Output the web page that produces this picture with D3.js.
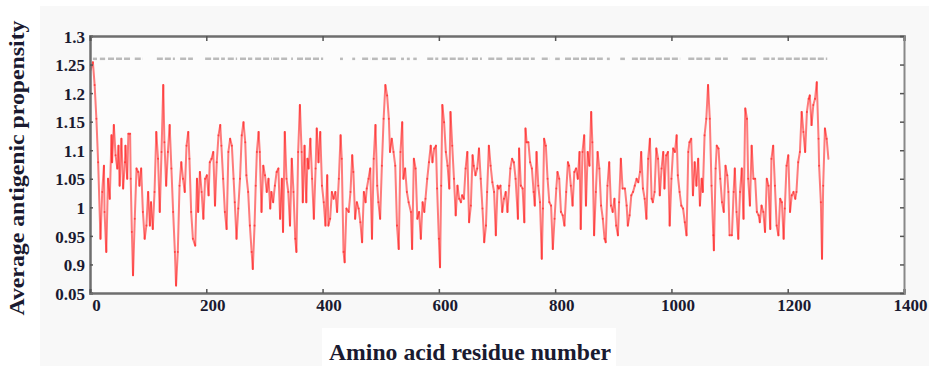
<!DOCTYPE html>
<html>
<head>
<meta charset="utf-8">
<script src="https://d3js.org/d3.v7.min.js"></script>
<style>
  html, body { margin: 0; padding: 0; background: #fff; }
  svg { display: block; }
  .lbl { font-family: "Liberation Serif", "Times New Roman", serif; font-weight: bold; fill: #1a1a30; }
</style>
</head>
<body>
<div id="chart"></div>
<script>
// residue positions and average antigenic propensity
const residues = [1,5,8,11,14,18,21,24,25,28,31,34,37,38,41,44,47,49,51,54,57,60,61,64,66,69,70,72,74,77,80,83,85,88,91,94,97,100,103,105,108,111,114,117,120,123,126,128,131,134,137,140,143,146,148,151,154,157,160,163,166,169,171,174,177,
  181,184,186,189,192,195,198,201,204,206,209,212,215,218,221,224,226,229,232,235,238,241,244,247,249,252,255,258,261,264,267,269,272,275,278,280,283,285,287,290,292,295,298,301,304,307,310,312,315,318,321,324,327,330,332,335,338,341,344,347,350,353,355,358,361,364,
  366,369,372,374,376,379,382,385,388,390,393,396,399,402,405,408,410,413,416,419,422,425,428,431,433,436,438,441,445,448,451,453,456,459,462,465,468,471,474,476,479,482,485,488,491,494,496,499,502,505,508,511,514,516,519,522,525,528,531,534,537,539,542,545,548,
  552,554,557,560,563,566,569,572,575,577,580,583,586,589,592,595,597,600,602,604,606,609,612,615,618,620,623,626,629,632,635,638,640,643,646,649,652,655,658,660,663,666,669,672,675,678,681,683,686,689,692,695,698,701,703,706,709,712,715,718,721,723,726,729,732,
  736,738,741,744,747,749,751,754,757,760,763,765,768,771,774,777,779,781,784,787,790,793,796,799,802,804,807,810,813,816,819,822,824,827,830,833,836,839,842,844,847,850,853,856,859,862,864,867,870,873,876,879,882,885,887,890,893,896,899,902,905,908,910,913,916,
  920,923,925,928,931,934,937,940,943,946,948,951,954,957,960,963,966,968,971,974,977,980,983,986,988,991,994,997,1000,1003,1006,1009,1011,1014,1017,1020,1023,1026,1029,1031,1034,1037,1040,1043,1046,1049,1052,1054,1057,1060,1063,1066,1069,1072,1073,1076,1078,1081,1084,1087,1090,1093,1096,1098,1100,
  1104,1107,1109,1112,1115,1118,1121,1124,1127,1130,1132,1135,1138,1141,1144,1147,1150,1152,1155,1158,1161,1164,1167,1170,1172,1175,1178,1181,1184,1187,1190,1193,1195,1198,1201,1204,1207,1210,1213,1215,1218,1221,1224,1227,1230,1233,1236,1238,1241,1244,1247,1250,1253,1254,1257,1259,1261,1264,1267,1270];

const propensity = [1.240,1.254,1.214,1.155,1.079,0.945,1.027,1.073,0.992,0.922,1.050,1.015,1.126,1.079,1.144,1.091,1.068,1.108,1.038,1.120,1.033,1.079,1.108,1.050,1.129,1.129,1.050,0.957,0.881,0.980,1.068,1.062,1.038,1.068,0.992,0.945,0.968,1.027,0.968,1.009,0.962,1.027,1.132,1.085,0.992,1.097,1.214,1.114,1.038,1.097,1.144,1.068,0.992,0.922,0.863,0.922,1.038,1.079,1.050,1.027,1.108,1.132,1.085,0.992,0.945,
  0.933,1.050,0.992,1.062,1.027,0.980,1.050,1.056,1.021,1.079,1.085,1.097,1.003,1.079,1.126,1.144,1.108,1.050,0.992,0.962,1.097,1.120,1.108,1.050,1.009,0.945,0.998,1.050,1.126,1.149,1.114,1.056,1.027,0.968,0.922,0.892,0.968,1.038,1.097,1.132,1.097,0.992,1.073,1.056,1.027,1.050,0.998,1.027,1.009,1.038,1.062,1.068,0.980,1.050,0.957,1.132,1.050,1.027,0.968,1.085,1.027,0.945,0.922,1.097,1.179,1.097,
  1.009,1.108,1.009,1.085,1.068,1.120,1.050,0.980,1.068,1.138,1.079,1.132,1.038,1.009,0.968,1.056,0.968,0.980,1.027,1.015,1.027,0.992,1.050,1.126,1.085,0.922,0.904,0.998,0.992,1.027,1.091,1.062,0.980,1.009,0.998,0.974,0.939,1.027,1.009,1.033,1.050,1.068,0.945,1.085,1.144,1.038,1.009,0.980,1.073,1.155,1.214,1.196,1.155,1.097,1.120,1.097,1.073,0.968,0.927,1.097,1.149,1.050,1.068,1.027,1.009,
  0.992,0.927,1.085,1.068,0.980,0.992,0.945,1.009,0.992,1.015,1.050,1.079,1.108,1.079,1.103,1.108,1.033,0.945,0.895,1.038,1.179,1.149,1.097,1.073,1.033,1.167,1.108,1.050,0.986,1.038,1.015,1.009,1.021,1.015,1.068,1.097,0.974,1.003,1.091,1.073,1.056,1.068,1.103,1.050,0.998,0.939,0.968,1.027,1.108,1.073,1.044,1.027,0.951,1.038,1.033,1.038,0.992,1.015,1.027,0.992,1.038,1.068,1.085,1.079,1.050,
  0.980,1.103,1.038,1.033,0.974,1.138,1.114,1.114,1.079,1.068,1.027,1.003,1.097,1.038,1.009,0.910,0.998,1.120,1.108,1.050,1.009,1.003,0.927,0.980,1.033,1.062,1.050,0.992,0.986,0.968,1.027,1.079,1.073,1.038,1.003,1.062,1.068,1.050,1.097,0.962,1.097,1.126,1.003,1.097,1.073,1.167,1.114,0.951,1.027,1.097,1.068,1.003,0.980,0.945,0.939,1.038,1.079,1.003,0.992,1.015,0.968,0.951,1.009,1.085,1.033,
  1.033,1.003,0.968,0.986,1.021,1.027,1.038,1.050,1.044,1.062,1.097,1.033,1.015,0.980,1.085,1.120,1.015,1.009,1.027,1.103,1.085,1.021,1.068,1.097,1.033,1.091,1.097,0.968,1.050,1.103,1.097,1.126,1.056,1.027,1.003,0.998,0.974,0.951,1.097,1.114,1.120,1.021,1.079,1.038,1.085,1.003,1.050,1.027,1.126,1.155,1.214,1.155,1.038,0.951,0.925,1.068,1.108,1.103,1.050,1.009,0.992,1.073,1.056,1.027,0.951,
  0.951,1.027,1.068,0.992,0.945,1.027,1.068,0.980,1.173,1.155,1.050,1.003,1.108,1.050,1.050,0.992,0.986,0.974,1.003,0.992,0.957,1.050,1.038,0.962,1.085,1.108,1.038,0.968,0.951,1.015,1.009,0.945,0.998,1.073,1.091,0.992,1.021,1.027,1.015,1.027,1.079,1.097,1.167,1.132,1.097,1.167,1.190,1.196,1.144,1.179,1.190,1.219,1.120,1.073,1.009,0.910,1.038,1.138,1.120,1.085];

// residue ranges covered by the grey dashed band near the top
const bandStart = [5,17,31,77,115,155,198,237,258,284,315,346,356,430,451,468,485,502,535,545,556,580,605,657,685,717,777,800,817,889,912,932,1029,1075,1121,1158,1183];
const bandEnd   = [12,26,72,91,146,177,232,253,279,313,339,349,401,435,456,482,495,528,540,550,562,599,650,674,710,765,791,808,882,894,920,1015,1070,1097,1147,1178,1268];
const bandLevel = 1.26;

const xTicks = [0,200,400,600,800,1000,1200,1400];
const yTicks = [1.3,1.25,1.2,1.15,1.1,1.05,1,0.95,0.9,0.85];
const yTickLabels = ["1.3","1.25","1.2","1.15","1.1","1.05","1","0.95","0.9","0.05"];

const W = 929, H = 366;
const svg = d3.select('#chart').append('svg').attr('width', W).attr('height', H);

// light grey backdrop like the scanned figure
svg.append('rect').attr('x', 40).attr('y', 6).attr('width', W - 40).attr('height', H - 6).attr('fill', '#f8f8f8');
svg.append('rect').attr('x', 322).attr('y', 328).attr('width', 294).attr('height', 38).attr('fill', '#fff');

const x = d3.scaleLinear().domain([0, 1400]).range([90, 904]);
const y = d3.scaleLinear().domain([0.85, 1.3]).range([293, 36]);

// plot area
svg.append('rect')
  .attr('x', x(0)).attr('y', y(1.3))
  .attr('width', x(1400) - x(0)).attr('height', y(0.85) - y(1.3))
  .attr('fill', '#fcfcfc');

// dashed band
const band = svg.append('g');
bandStart.forEach((s, i) => {
  band.append('line')
    .attr('x1', x(s)).attr('x2', x(bandEnd[i]))
    .attr('y1', y(bandLevel)).attr('y2', y(bandLevel))
    .attr('stroke', '#bbbbbb').attr('stroke-width', 2.5)
    .attr('stroke-dasharray', '6,2');
});

// propensity trace, one segment at a time so overlaps get darker
const pts = residues.map((r, i) => [r, propensity[i]]);
const line = d3.line().x(d => x(d[0])).y(d => y(d[1]));
svg.append('g').selectAll('path')
  .data(d3.pairs(pts))
  .enter().append('path')
  .attr('d', d => line(d))
  .attr('fill', 'none')
  .attr('stroke', '#ff1010')
  .attr('stroke-opacity', 0.55)
  .attr('stroke-width', 2)
  .attr('stroke-linecap', 'round');

// axes
const fmtY = d => yTickLabels[yTicks.indexOf(d)];
const axLeft = svg.append('g').attr('transform', `translate(${x(0)},0)`)
  .call(d3.axisLeft(y).tickValues(yTicks).tickFormat(fmtY).tickSize(-3).tickPadding(5));
const axBottom = svg.append('g').attr('transform', `translate(0,${y(0.85)})`)
  .call(d3.axisBottom(x).tickValues(xTicks).tickFormat(d3.format('d')).tickSize(-4).tickPadding(6));
const axTop = svg.append('g').attr('transform', `translate(0,${y(1.3)})`)
  .call(d3.axisTop(x).tickValues(xTicks).tickSize(-5).tickFormat(''));
const axRight = svg.append('g').attr('transform', `translate(${x(1400)},0)`)
  .call(d3.axisRight(y).tickValues(yTicks).tickSize(-4).tickFormat(''));

[axLeft, axBottom, axTop, axRight].forEach(g => {
  g.select('.domain').attr('stroke', '#6e6e6e').attr('stroke-width', 2.5);
  g.selectAll('.tick line').attr('stroke', '#555').attr('stroke-width', 1.5);
});
axRight.select('.domain').attr('stroke', '#888').attr('stroke-width', 2);

axLeft.selectAll('.tick text').attr('class', 'lbl').style('font-size', '17px').attr('dy', '0.36em');
axBottom.selectAll('.tick text').attr('class', 'lbl').style('font-size', '17px').attr('dx', '6');

// axis titles
svg.append('text').attr('class', 'lbl')
  .attr('transform', 'translate(24,168) rotate(-90)')
  .attr('text-anchor', 'middle')
  .attr('textLength', 295).attr('lengthAdjust', 'spacingAndGlyphs')
  .style('font-size', '21px')
  .text('Average antigenic propensity');

svg.append('text').attr('class', 'lbl')
  .attr('x', 470).attr('y', 360)
  .attr('text-anchor', 'middle')
  .attr('textLength', 282).attr('lengthAdjust', 'spacingAndGlyphs')
  .style('font-size', '24px')
  .text('Amino acid residue number');
</script>
</body>
</html>
